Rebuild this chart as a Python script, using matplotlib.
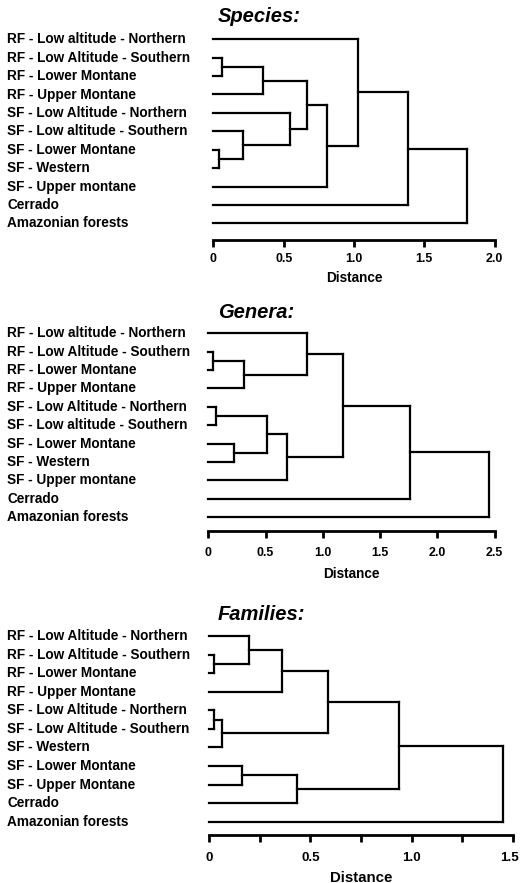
import matplotlib
matplotlib.use("Agg")
import matplotlib.pyplot as plt
import matplotlib.transforms as mtransforms

plt.rcParams['font.family'] = ['Liberation Sans', 'DejaVu Sans']

# ---------------- data ----------------
species_labels = ["RF - Low altitude - Northern", "RF - Low Altitude - Southern",
                  "RF - Lower Montane", "RF - Upper Montane",
                  "SF - Low Altitude - Northern", "SF - Low altitude - Southern",
                  "SF - Lower Montane", "SF - Western", "SF - Upper montane",
                  "Cerrado", "Amazonian forests"]
# merges: (child_a, child_b, height); leaves are 0..n-1, new nodes n, n+1, ...
species_merges = [(1, 2, 0.06), (11, 3, 0.355), (6, 7, 0.04), (13, 5, 0.21),
                  (14, 4, 0.545), (12, 15, 0.668), (16, 8, 0.81),
                  (0, 17, 1.03), (18, 9, 1.386), (19, 10, 1.805)]
species_ticks = [0, 0.5, 1.0, 1.5, 2.0]
species_ticklabels = ["0", "0.5", "1.0", "1.5", "2.0"]

genera_labels = ["RF - Low altitude - Northern", "RF - Low Altitude - Southern",
                 "RF - Lower Montane", "RF - Upper Montane",
                 "SF - Low Altitude - Northern", "SF - Low altitude - Southern",
                 "SF - Lower Montane", "SF - Western", "SF - Upper montane",
                 "Cerrado", "Amazonian forests"]
genera_merges = [(1, 2, 0.044), (11, 3, 0.31), (0, 12, 0.86), (4, 5, 0.067),
                 (6, 7, 0.22), (14, 15, 0.51), (16, 8, 0.69), (13, 17, 1.18),
                 (18, 9, 1.76), (19, 10, 2.45)]
genera_ticks = [0, 0.5, 1.0, 1.5, 2.0, 2.5]
genera_ticklabels = ["0", "0.5", "1.0", "1.5", "2.0", "2.5"]

families_labels = ["RF - Low Altitude - Northern", "RF - Low Altitude - Southern",
                   "RF - Lower Montane", "RF - Upper Montane",
                   "SF - Low Altitude - Northern", "SF - Low Altitude - Southern",
                   "SF - Western", "SF - Lower Montane", "SF - Upper Montane",
                   "Cerrado", "Amazonian forests"]
families_merges = [(1, 2, 0.023), (0, 11, 0.196), (12, 3, 0.36), (4, 5, 0.023),
                   (14, 6, 0.061), (13, 15, 0.588), (7, 8, 0.16), (17, 9, 0.435),
                   (16, 18, 0.938), (19, 10, 1.45)]
families_ticks = [0, 0.25, 0.5, 0.75, 1.0, 1.25, 1.5]
families_ticklabels = ["0", "", "0.5", "", "1.0", "", "1.5"]

titles = ["Species:", "Genera:", "Families:"]

# ---------------- layout (pixels) ----------------
W, H = 520, 883
fig = plt.figure(figsize=(W / 100, H / 100), dpi=100)

panels = [
    dict(labels=species_labels, merges=species_merges, ticks=species_ticks,
         ticklabels=species_ticklabels, title=titles[0],
         y0=39.3, y1=223.3, yaxis=240, x0=213.3, x1=494.7, title_y=17,
         tfs=8.9, xfs=9.8, pad=4, lpad=4.5),
    dict(labels=genera_labels, merges=genera_merges, ticks=genera_ticks,
         ticklabels=genera_ticklabels, title=titles[1],
         y0=333.3, y1=517.3, yaxis=530.7, x0=208.3, x1=494.7, title_y=313,
         tfs=8.9, xfs=9.8, pad=6.5, lpad=6),
    dict(labels=families_labels, merges=families_merges, ticks=families_ticks,
         ticklabels=families_ticklabels, title=titles[2],
         y0=636, y1=821.7, yaxis=835, x0=209.3, x1=512.7, title_y=614,
         tfs=9.6, xfs=10.8, pad=7, lpad=5),
]

FS = 9.8
for p in panels:
    n = len(p["labels"])
    dy = (p["y1"] - p["y0"]) / (n - 1)
    top_px = p["y0"] - 0.5 * dy
    ybot = (p["yaxis"] - p["y0"]) / dy
    xmax = p["ticks"][-1]
    ax = fig.add_axes([p["x0"] / W, 1 - p["yaxis"] / H,
                       (p["x1"] - p["x0"]) / W, (p["yaxis"] - top_px) / H])
    ax.set_xlim(0, xmax)
    ax.set_ylim(ybot, -0.5)

    # dendrogram
    ypos = {i: float(i) for i in range(n)}
    xpos = {i: 0.0 for i in range(n)}
    node = n
    for a, b, h in p["merges"]:
        for c in (a, b):
            ax.plot([xpos[c], h], [ypos[c], ypos[c]], color="black", lw=1.6,
                    solid_capstyle="projecting", clip_on=False)
        ax.plot([h, h], [ypos[a], ypos[b]], color="black", lw=1.6,
                solid_capstyle="projecting", clip_on=False)
        ypos[node] = (ypos[a] + ypos[b]) / 2
        xpos[node] = h
        node += 1

    # leaf labels
    tr = mtransforms.blended_transform_factory(fig.transFigure, ax.transData)
    for i, lab in enumerate(p["labels"]):
        ax.text(7 / W, i, lab, transform=tr, ha="left", va="center",
                fontsize=FS, fontweight="bold")

    # axis
    for s in ("top", "right", "left"):
        ax.spines[s].set_visible(False)
    ax.spines["bottom"].set_linewidth(2.0)
    ax.set_yticks([])
    ax.set_xticks(p["ticks"])
    ax.set_xticklabels(p["ticklabels"], fontsize=p["tfs"], fontweight="bold")
    ax.tick_params(axis="x", direction="out", length=5, width=2.0, pad=p["pad"])
    ax.set_xlabel("Distance", fontsize=p["xfs"], fontweight="bold",
                  labelpad=p["lpad"])
    # keep the right-most tick label inside the canvas
    if p["x1"] > 505:
        last = ax.get_xticklabels()[-1]
        last.set_transform(last.get_transform() +
                           mtransforms.ScaledTranslation(-3 / 100, 0,
                                                         fig.dpi_scale_trans))

    fig.text(218 / W, 1 - p["title_y"] / H, p["title"], ha="left", va="center",
             fontsize=14.5, fontweight="bold", fontstyle="italic")

fig.savefig("out.png", dpi=100)
